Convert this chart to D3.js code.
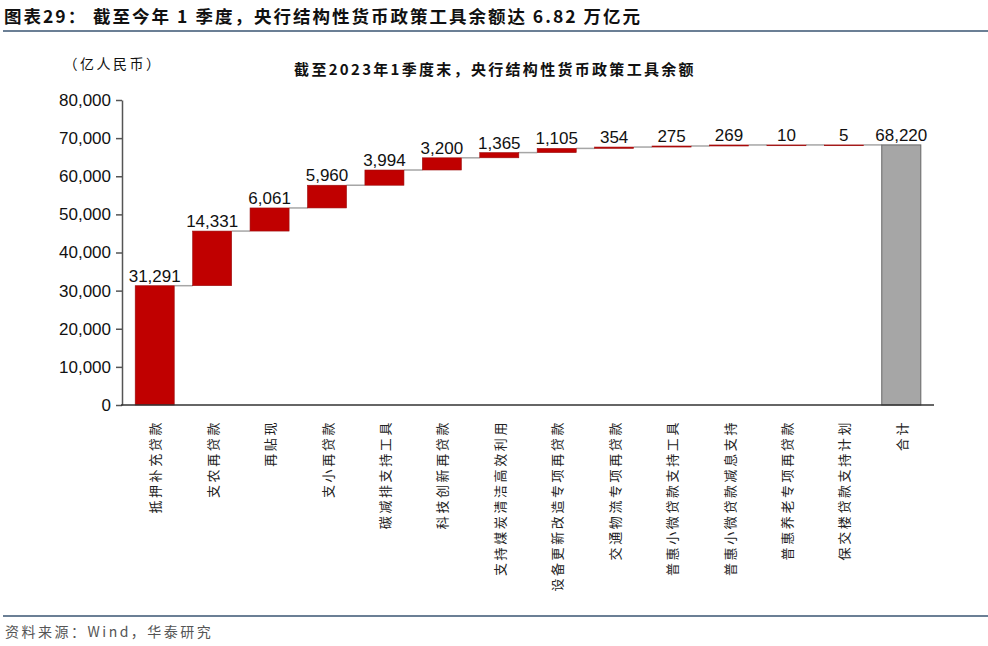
<!DOCTYPE html>
<html><head><meta charset="utf-8">
<script src="https://cdn.jsdelivr.net/npm/d3@7"></script>
<style>
body{margin:0;background:#fff;}
svg{display:block;}
</style></head>
<body><svg id="c" width="988" height="646"></svg>
<script>
const categories = ["抵押补充贷款","支农再贷款","再贴现","支小再贷款","碳减排支持工具","科技创新再贷款","支持煤炭清洁高效利用","设备更新改造专项再贷款","交通物流专项再贷款","普惠小微贷款支持工具","普惠小微贷款减息支持","普惠养老专项再贷款","保交楼贷款支持计划","合计"];
const values = [31291,14331,6061,5960,3994,3200,1365,1105,354,275,269,10,5,68220];
const yTicks = [0,10000,20000,30000,40000,50000,60000,70000,80000];

const svg = d3.select("#c");
const CJK = "'Noto Sans CJK SC','Noto Sans',sans-serif";
const LAT = "'Liberation Sans',Arial,sans-serif";

// header
svg.append("text").attr("x",4).attr("y",23)
  .style("font-family",CJK).style("font-weight","bold").style("font-size","17.5px").style("letter-spacing","2px").attr("fill","#111")
  .text("图表29：  截至今年 1 季度，央行结构性货币政策工具余额达 6.82 万亿元");
svg.append("line").attr("x1",3).attr("x2",988).attr("y1",31).attr("y2",31).attr("stroke","#6b7f95").attr("stroke-width",2);
svg.append("line").attr("x1",3).attr("x2",988).attr("y1",616).attr("y2",616).attr("stroke","#6b7f95").attr("stroke-width",2);
svg.append("text").attr("x",5).attr("y",637)
  .style("font-family",CJK).style("font-size","14px").style("letter-spacing","2.5px").attr("fill","#555")
  .text("资料来源：Wind，华泰研究");

// chart title and unit
svg.append("text").attr("x",495).attr("y",75).attr("text-anchor","middle")
  .style("font-family",CJK).style("font-weight","bold").style("font-size","15px").style("letter-spacing","2.3px").attr("fill","#111")
  .text("截至2023年1季度末，央行结构性货币政策工具余额");
svg.append("text").attr("x",113).attr("y",69).attr("text-anchor","middle")
  .style("font-family",CJK).style("font-size","14px").style("letter-spacing","2.5px").attr("fill","#111")
  .text("（亿人民币）");

const y = d3.scaleLinear().domain([0,80000]).range([405,100]);
const x = d3.scaleBand().domain(categories).range([126,930]).paddingInner(0.32).paddingOuter(0.16);

// compute waterfall
let cum = 0;
const bars = values.map((v,i)=>{
  const last = i===values.length-1;
  const b = last ? {c:categories[i],v,lo:0,hi:v,total:true} : {c:categories[i],v,lo:cum,hi:cum+v,total:false};
  if(!last) cum += v;
  return b;
});

// connectors
const g = svg.append("g");
bars.forEach((b,i)=>{
  if(i<bars.length-1){
    g.append("line").attr("x1",x(b.c)+x.bandwidth()).attr("x2",x(bars[i+1].c))
      .attr("y1",y(b.hi)).attr("y2",y(b.hi)).attr("stroke","#a6a6a6").attr("stroke-width",1.5);
  }
});

// bars
g.selectAll("rect.bar").data(bars).join("rect")
  .attr("x",d=>x(d.c)).attr("width",x.bandwidth())
  .attr("y",d=>y(d.hi)).attr("height",d=>Math.max(y(d.lo)-y(d.hi),0.8))
  .attr("fill",d=>d.total?"#a6a6a6":"#c00000")
  .attr("stroke",d=>d.total?"#666":"#9a1010").attr("stroke-width",d=>d.total?1:0.6);

// value labels
g.selectAll("text.val").data(bars).join("text")
  .attr("x",d=>x(d.c)+x.bandwidth()/2).attr("y",d=>y(d.hi)-4)
  .attr("text-anchor","middle").style("font-family",LAT).style("font-size","17px").attr("fill","#111")
  .text(d=>d3.format(",")(d.v));

// y axis
const ya = svg.append("g").attr("transform","translate(122,0)")
  .call(d3.axisLeft(y).tickValues(yTicks).tickFormat(d3.format(",")).tickSize(6).tickSizeOuter(0));
ya.select(".domain").attr("stroke","#555").attr("stroke-width",1.5);
ya.selectAll(".tick line").attr("stroke","#555").attr("stroke-width",1.5);
ya.selectAll(".tick text").style("font-family",LAT).style("font-size","17px").attr("fill","#111").attr("x",-11);

// x axis line
svg.append("line").attr("x1",121).attr("x2",934).attr("y1",405).attr("y2",405).attr("stroke","#333").attr("stroke-width",1.5);

// x labels rotated
categories.forEach(c=>{
  const cx = x(c)+x.bandwidth()/2;
  svg.append("text").attr("transform",`translate(${cx+1},420) rotate(-90)`)
    .attr("text-anchor","end").attr("dy","0.35em")
    .style("font-family",CJK).style("font-size","13px").style("letter-spacing","2.6px").attr("fill","#222")
    .text(c);
});
</script></body></html>
